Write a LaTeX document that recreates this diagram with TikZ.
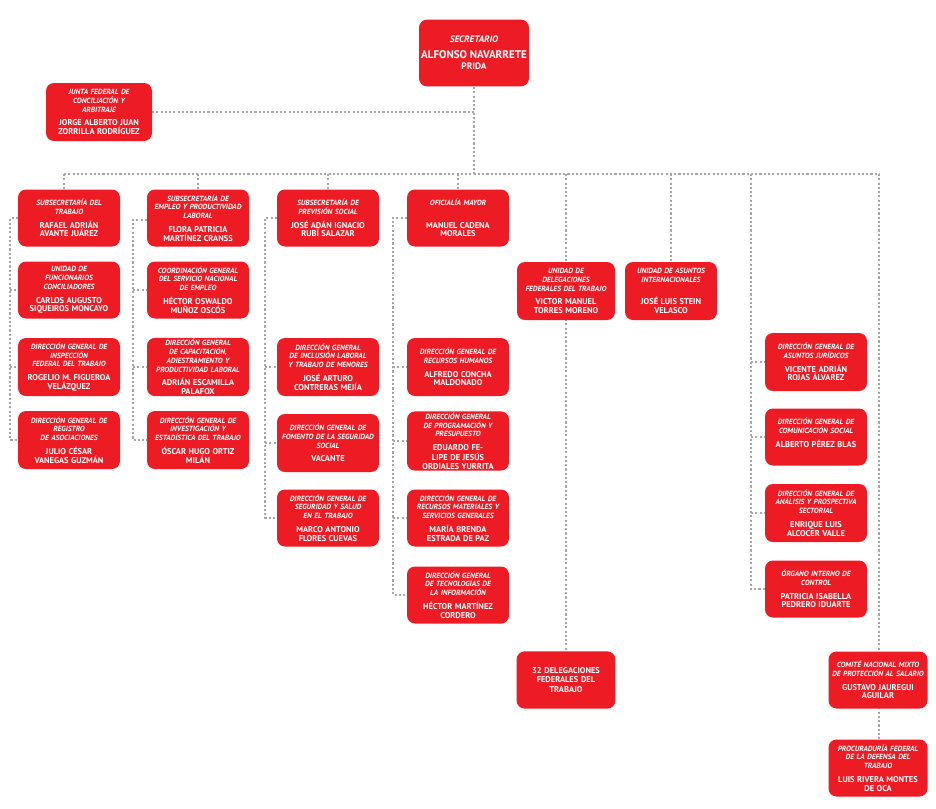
\documentclass[tikz,border=0pt]{standalone}
\usepackage{fontspec}
\setmainfont{PT Sans}
\definecolor{boxred}{RGB}{237,28,36}
\newcommand{\bx}[8]{\node[box, minimum width=#4*0.75pt, minimum height=#5*0.75pt, text width=#4*0.75pt-4pt] (#1) at (#2,#3) {\itshape #6\\[3pt]\upshape\fontsize{6.3}{7.3}\selectfont #7#8};}
\begin{document}
\begin{tikzpicture}[x=0.75pt,y=-0.75pt,
  box/.style={fill=boxred, rounded corners=6pt, text=white, align=center, inner sep=1pt, font=\fontsize{5.6}{6.6}\selectfont\bfseries},
  conn/.style={draw=black!35, line width=1.7pt, dash pattern=on 1.6pt off 1.6pt}]
\useasboundingbox (0,0) rectangle (936,808);
% connectors
\coordinate (top) at (474,174);
\coordinate (L) at (64,174);
\coordinate (R) at (879,174);
\draw[conn] (474,87) -- (top);
\draw[conn] (L) -- (R);
\draw[conn] (152,112) -- (474,112);
\draw[conn] (64,174) -- (64,190);
\draw[conn] (198,174) -- (198,190);
\draw[conn] (328,174) -- (328,190);
\draw[conn] (458,174) -- (458,190);
\draw[conn] (566,174) -- (566,652);
\draw[conn] (671,174) -- (671,262);
\draw[conn] (751,174) -- (751,589) -- (765,589);
\foreach \y in {362,437,513} \draw[conn] (751,\y) -- (765,\y);
\draw[conn] (879,174) -- (879,740);
% side lines
\draw[conn] (18,218) -- (10,218) -- (10,440) -- (18,440);
\foreach \y in {290,367} \draw[conn] (10,\y) -- (18,\y);
\draw[conn] (147,220) -- (133,220) -- (133,440) -- (147,440);
\foreach \y in {290,367} \draw[conn] (133,\y) -- (147,\y);
\draw[conn] (277,218) -- (265,218) -- (265,518) -- (277,518);
\foreach \y in {367,443} \draw[conn] (265,\y) -- (277,\y);
\draw[conn] (407,218) -- (393,218) -- (393,595) -- (407,595);
\foreach \y in {367,441,518} \draw[conn] (393,\y) -- (407,\y);
% boxes
\node[box, minimum width=82.5pt, minimum height=50pt, font=\fontsize{7}{8.5}\selectfont\bfseries] (sec) at (474,53) {\itshape SECRETARIO\\[3pt]\upshape\fontsize{8.3}{9.5}\selectfont ALFONSO NAVARRETE\\PRIDA};
\bx{junta}{99}{112}{106}{58}{JUNTA FEDERAL DE\\CONCILIACIÓN Y\\ARBITRAJE}{JORGE ALBERTO JUAN\\ZORRILLA RODRÍGUEZ}{}
\bx{a1}{69}{218}{102}{57}{SUBSECRETARÍA DEL\\TRABAJO}{RAFAEL ADRIÁN\\AVANTE JUÁREZ}{}
\bx{a2}{69}{290}{102}{57}{UNIDAD DE\\FUNCIONARIOS\\CONCILIADORES}{CARLOS AUGUSTO\\SIQUEIROS MONCAYO}{}
\bx{a3}{69}{367}{102}{58}{DIRECCIÓN GENERAL DE\\INSPECCIÓN\\FEDERAL DEL TRABAJO}{ROGELIO M. FIGUEROA\\VELÁZQUEZ}{}
\bx{a4}{69}{440}{102}{58}{DIRECCIÓN GENERAL DE\\REGISTRO\\DE ASOCIACIONES}{JULIO CÉSAR\\VANEGAS GUZMÁN}{}
\bx{b1}{198}{218}{102}{57}{SUBSECRETARÍA DE\\EMPLEO Y PRODUCTIVIDAD\\LABORAL}{FLORA PATRICIA\\MARTÍNEZ CRANSS}{}
\bx{b2}{198}{290}{102}{57}{COORDINACIÓN GENERAL\\DEL SERVICIO NACIONAL\\DE EMPLEO}{HÉCTOR OSWALDO\\MUÑOZ OSCÓS}{}
\bx{b3}{198}{367}{102}{58}{DIRECCIÓN GENERAL\\DE CAPACITACIÓN,\\ADIESTRAMIENTO Y\\PRODUCTIVIDAD LABORAL}{ADRIÁN ESCAMILLA\\PALAFOX}{}
\bx{b4}{198}{440}{102}{58}{DIRECCIÓN GENERAL DE\\INVESTIGACIÓN Y\\ESTADÍSTICA DEL TRABAJO}{ÓSCAR HUGO ORTIZ\\MILÁN}{}
\bx{c1}{328}{218}{102}{57}{SUBSECRETARÍA DE\\PREVISIÓN SOCIAL}{JOSÉ ADÁN IGNACIO\\RUBÍ SALAZAR}{}
\bx{c2}{328}{367}{102}{58}{DIRECCIÓN  GENERAL\\DE INCLUSIÓN LABORAL\\Y TRABAJO DE MENORES}{JOSÉ ARTURO\\CONTRERAS MEJÍA}{}
\bx{c3}{328}{443}{102}{58}{DIRECCIÓN  GENERAL DE\\FOMENTO DE LA SEGURIDAD\\SOCIAL}{VACANTE}{\\[4pt]}
\bx{c4}{328}{518}{102}{57}{DIRECCIÓN  GENERAL DE\\SEGURIDAD Y SALUD\\EN EL TRABAJO}{MARCO ANTONIO\\FLORES CUEVAS}{}
\bx{d1}{458}{218}{102}{57}{OFICIALÍA MAYOR\\~}{MANUEL CADENA\\MORALES}{}
\bx{d2}{458}{367}{102}{58}{DIRECCIÓN GENERAL DE\\RECURSOS HUMANOS}{ALFREDO CONCHA\\MALDONADO}{}
\bx{d3}{458}{441}{102}{57}{DIRECCIÓN GENERAL\\DE  PROGRAMACIÓN Y\\PRESUPUESTO}{EDUARDO FELIPE DE JESÚS\\ORDIALES YURRITA}{}
\bx{d4}{458}{518}{102}{57}{DIRECCIÓN GENERAL DE\\RECURSOS MATERIALES Y\\SERVICIOS GENERALES}{MARÍA BRENDA\\ESTRADA DE PAZ}{}
\bx{d5}{458}{595}{102}{57}{DIRECCIÓN GENERAL\\DE TECNOLOGÍAS DE\\LA INFORMACIÓN}{HÉCTOR MARTÍNEZ\\CORDERO}{}
\bx{e1}{566}{291}{98}{58}{UNIDAD DE\\DELEGACIONES\\FEDERALES DEL TRABAJO}{VICTOR MANUEL\\TORRES MORENO}{}
\bx{f1}{671}{291}{92}{58}{UNIDAD DE ASUNTOS\\INTERNACIONALES\\~}{JOSÉ LUIS STEIN\\VELASCO}{}
\node[box, minimum width=74pt, minimum height=43pt, text width=70pt, font=\fontsize{6.3}{7.3}\selectfont\bfseries] (e2) at (566,680) {32 DELEGACIONES\\FEDERALES DEL\\TRABAJO};
\bx{g1}{816}{362}{102}{58}{DIRECCIÓN GENERAL DE\\ASUNTOS JURÍDICOS}{VICENTE ADRIÁN\\ROJAS ÁLVAREZ}{}
\bx{g2}{816}{437}{102}{57}{DIRECCIÓN GENERAL DE\\COMUNICACIÓN SOCIAL}{ALBERTO PÉREZ BLAS}{\\~}
\bx{g3}{816}{513}{102}{58}{DIRECCIÓN GENERAL DE\\ANÁLISIS Y PROSPECTIVA\\SECTORIAL}{ENRIQUE LUIS\\ALCOCER VALLE}{}
\bx{g4}{816}{589}{102}{57}{ÓRGANO INTERNO DE\\CONTROL}{PATRICIA ISABELLA\\PEDRERO IDUARTE}{}
\bx{h1}{878}{680}{99}{57}{COMITÉ NACIONAL MIXTO\\DE PROTECCIÓN AL SALARIO}{GUSTAVO JAUREGUI\\AGUILAR}{}
\bx{h2}{878}{768}{99}{57}{PROCURADURÍA FEDERAL\\DE LA DEFENSA DEL\\TRABAJO}{LUIS RIVERA MONTES\\DE OCA}{}
\end{tikzpicture}
\end{document}
